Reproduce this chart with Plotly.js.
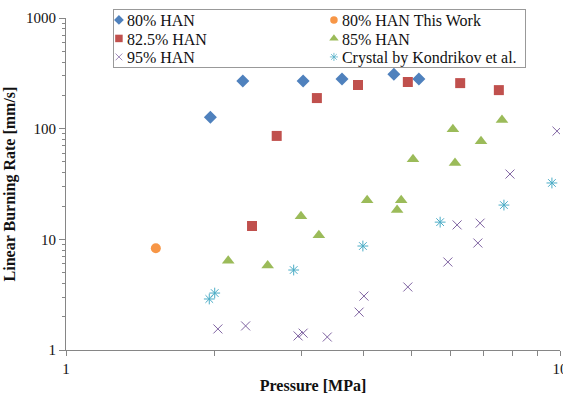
<!DOCTYPE html>
<html>
<head>
<meta charset="utf-8">
<script src="https://cdn.plot.ly/plotly-3.0.1.min.js"></script>
<style>html,body{margin:0;padding:0;background:#fff;}#chart{width:563px;height:394px;}</style>
</head>
<body>
<div id="chart"></div>
<script>
// Pressure [MPa] / Linear burning rate [mm/s]
const han80_p = [1.96, 2.28, 3.02, 3.62, 4.61, 5.18];
const han80_r = [127, 269, 269, 281, 311, 281];

const han80work_p = [1.52];
const han80work_r = [8.3];

const han825_p = [2.38, 2.67, 3.22, 3.90, 4.92, 6.28, 7.52];
const han825_r = [13.2, 86, 189, 248, 264, 258, 223];

const han85_p = [2.13, 2.56, 2.99, 3.25, 4.07, 4.68, 4.77, 5.04, 6.07, 6.13, 6.92, 7.63];
const han85_r = [6.4, 5.8, 16.2, 10.9, 22.6, 18.4, 22.6, 53, 99, 49, 77, 120];

const han95_p = [2.03, 2.31, 2.95, 3.02, 3.38, 3.92, 4.01, 4.92, 5.93, 6.19, 6.82, 6.89, 7.92, 9.86];
const han95_r = [1.55, 1.65, 1.34, 1.42, 1.31, 2.2, 3.07, 3.71, 6.24, 13.5, 9.26, 14.0, 38.9, 95];

const crystal_p = [1.95, 2.00, 2.89, 3.99, 5.72, 7.70, 9.63];
const crystal_r = [2.89, 3.27, 5.28, 8.7, 14.3, 20.4, 32.3];

const names = ["80% HAN", "80% HAN This Work", "82.5% HAN", "85% HAN", "95% HAN", "Crystal by Kondrikov et al."];

const xTickVals = [1,2,3,4,5,6,7,8,9,10];
const xTickText = ["1","","","","","","","","","10"];
const yTickVals = [1, 10, 100, 1000];
const yTickText = ["1", "10", "100", "1000"];
const yMinorVals = [2,3,4,5,6,7,8,9,20,30,40,50,60,70,80,90,200,300,400,500,600,700,800,900];

const serif = "'Liberation Serif', 'Times New Roman', serif";

function tr(x, y, name, symbol, color, size, lw) {
  return {
    x: x, y: y, name: name, type: "scatter", mode: "markers",
    marker: {symbol: symbol, color: color, size: size, line: {width: lw || 0, color: color}},
    hoverinfo: "skip"
  };
}

const data = [
  tr(han80_p, han80_r, names[0], "diamond", "#4F81BD", 10),
  tr(han80work_p, han80work_r, names[1], "circle", "#F79646", 10),
  tr(han825_p, han825_r, names[2], "square", "#C0504D", 10),
  tr(han85_p, han85_r, names[3], "triangle-up", "#9BBB59", 11),
  tr(han95_p, han95_r, names[4], "x-thin-open", "#8064A2", 9, 1),
  tr(crystal_p, crystal_r, names[5], "asterisk-open", "#4BACC6", 9, 1)
];

const axisCommon = {
  type: "log",
  showgrid: false,
  zeroline: false,
  showline: true,
  linecolor: "#868686",
  linewidth: 1,
  ticks: "outside",
  tickcolor: "#868686",
  tickfont: {family: serif, size: 15, color: "#111"},
  tickmode: "array",
  ticklabeloverflow: "allow"
};

const layout = {
  width: 563, height: 394,
  margin: {l: 66, r: 3, t: 18, b: 44},
  paper_bgcolor: "#fff", plot_bgcolor: "#fff",
  showlegend: true,
  xaxis: Object.assign({}, axisCommon, {
    range: [0, 1],
    tickvals: xTickVals, ticktext: xTickText, ticklen: 5,
    title: {text: "<b>Pressure [MPa]</b>", font: {family: serif, size: 16, color: "#111"}, standoff: 8}
  }),
  yaxis: Object.assign({}, axisCommon, {
    range: [0, 3],
    tickvals: yTickVals, ticktext: yTickText, ticklen: 6,
    minor: {ticks: "outside", ticklen: 3, tickcolor: "#868686", tickmode: "array", tickvals: yMinorVals, showgrid: false},
    title: {text: "<b>Linear Burning Rate [mm/s]</b>", font: {family: serif, size: 16, color: "#111"}, standoff: 6}
  }),
  legend: {
    orientation: "h",
    x: 0.095, xanchor: "left",
    y: 1.027, yanchor: "top",
    bgcolor: "#fff",
    bordercolor: "#999",
    borderwidth: 1,
    font: {family: serif, size: 16, color: "#111"},
    itemwidth: 30,
    entrywidth: 170,
    entrywidthmode: "pixels",
    tracegroupgap: 0
  }
};

Plotly.newPlot("chart", data, layout, {displayModeBar: false, staticPlot: true}).then(function(gd) {
  // tighten the legend rows and symbol/text spacing to match the reference
  var leg = gd.querySelector(".legend");
  if (!leg) return;
  var traces = Array.prototype.slice.call(leg.querySelectorAll(".traces"));
  var ys = [];
  var info = traces.map(function(t) {
    var tf = t.getAttribute("transform") || "";
    var m = /translate\(\s*([-\d.e]+)[ ,]+([-\d.e]+)\s*\)/.exec(tf);
    var x = m ? parseFloat(m[1]) : 0, y = m ? parseFloat(m[2]) : 0;
    if (ys.indexOf(y) < 0) ys.push(y);
    return {t: t, x: x, y: y};
  });
  ys.sort(function(a, b) { return a - b; });
  var y0 = ys[0];
  info.forEach(function(o) {
    var r = ys.indexOf(o.y);
    o.t.setAttribute("transform", "translate(" + o.x + "," + (y0 - 7 + r * 18.5) + ")");
    var sym = o.t.querySelector(".legendsymbols");
    if (sym) sym.setAttribute("transform", "translate(-10,0) scale(0.75)");
    var txt = o.t.querySelector(".legendtext");
    if (txt) txt.setAttribute("x", (parseFloat(txt.getAttribute("x")) || 40) - 27);
  });
  var bg = leg.querySelector(".bg");
  if (bg) { bg.setAttribute("height", 58); bg.setAttribute("width", 412); }
});
</script>
</body>
</html>
